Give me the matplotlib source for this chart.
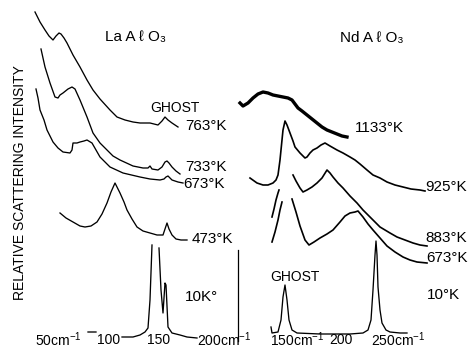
"""
Raman spectra of LaAlO3 and NdAlO3 at several temperatures,
redrawn as stacked traces (relative scattering intensity, offset).
"""

import numpy as np
import matplotlib.pyplot as plt

nan = np.nan

# LaAlO3 traces: Raman shift (cm-1) and offset intensity
la_763_w = [25, 30, 35, 39, 43, 46, 49, 51, 54, 57, 63, 70, 77, 83, 90, 100, 107, 115, 123, 130, 140, 148, 152, 155, 158, 162, 168]
la_763_i = [338, 328, 320, 314, 310, 314, 317, 316, 312, 307, 295, 283, 270, 260, 251, 240, 233, 230, 228, 227, 227, 225, 229, 233, 230, 227, 223]

la_733_w = [31, 35, 40, 45, 48, 50, 53, 58, 62, 65, 70, 77, 83, 90, 97, 103, 110, 123, 133, 138, 140, 142, 148, 152, 155, 157, 159, 162, 166, 170]
la_733_i = [301, 283, 267, 253, 252, 255, 257, 261, 263, 261, 250, 233, 217, 207, 200, 194, 190, 184, 182, 182, 184, 181, 180, 183, 188, 189, 187, 183, 179, 176]

la_673_w = [26, 28, 30, 34, 37, 43, 48, 53, 60, 62, 63, 67, 70, 74, 77, 82, 86, 90, 100, 113, 130, 140, 150, 154, 156, 158, 160, 162, 168, 173]
la_673_i = [261, 252, 240, 230, 220, 208, 202, 198, 197, 200, 207, 207, 208, 209, 210, 207, 200, 193, 183, 177, 173, 171, 170, 171, 173, 174, 172, 170, 168, 167]

la_473_w = [50, 56, 63, 70, 75, 81, 87, 92, 97, 101, 105, 108, 110, 114, 117, 122, 127, 133, 140, 147, 153, 155, 157, 159, 162, 166, 171, 177]
la_473_i = [137, 132, 128, 124, 123, 124, 128, 136, 147, 158, 167, 161, 157, 148, 140, 131, 123, 119, 117, 115, 115, 121, 127, 121, 115, 111, 110, 110]

# baseline is broken where the wavenumber labels sit
la_10_w = [78, 86, nan, 112, 123, 130, 135, 138, 140, 142, nan, 149, 151, 153, 155, 156, 158, 162, 170, 177, 187]
la_10_i = [18, 18, nan, 13, 13, 15, 18, 22, 50, 105, nan, 102, 60, 37, 67, 65, 23, 17, 15, 13, 12]

# NdAlO3 traces
nd_1133_w = [107, 110, 115, 120, 125, 130, 135, 140, 145, 150, 155, 159, 162, 165, 169, 174, 179, 184, 189, 194, 199, 204, 209, 214]
nd_1133_i = [247, 244, 247, 252, 256, 258, 257, 255, 254, 253, 252, 250, 246, 242, 239, 235, 231, 227, 223, 220, 218, 216, 214, 213]

nd_925_w = [117, 124, 130, 135, 140, 143, 145, 147, 149, 150, 152, 154, 157, 160, 162, 167, 172, 174, 177, 180, 184, 188, 192, 197,
            204, 210, 217, 222, 227, 234, 240, 247, 254, 262, 270, 278, 287, 292]
nd_925_i = [172, 167, 165, 165, 167, 170, 175, 190, 210, 220, 229, 225, 217, 209, 203, 197, 192, 193, 197, 200, 202, 205, 207, 204,
            200, 197, 193, 190, 186, 180, 175, 172, 168, 165, 163, 161, 160, 159]

nd_883_w = [139, 141, 143, 145, 146, nan, 160, 163, 167, 170, 174, 179, 184, 189, 194, 197, 200, 205, 210, 217, 224, 230, 237,
            247, 257, 264, 272, 280, 287, 294]
nd_883_i = [133, 141, 150, 157, 160, nan, 175, 169, 162, 158, 160, 163, 167, 172, 180, 177, 173, 167, 162, 154, 147, 140, 133,
            123, 117, 113, 110, 107, 105, 104]

nd_673_w = [139, 142, 145, 147, 149, nan, 159, 163, 167, 172, 176, 181, 187, 194, 200, 207, 212, 217, 222, 225, 230, 235, 240,
            247, 254, 262, 270, 277, 284, 294]
nd_673_i = [108, 118, 130, 140, 148, nan, 151, 138, 124, 110, 105, 108, 112, 116, 120, 128, 134, 137, 138, 139, 133, 126, 120,
            112, 104, 98, 93, 90, 88, 87]

nd_10_w = [138, 139, 145, 148, 150, 152, 154, 156, 159, 164, 187, 217, 230, 235, 238, 240, 242, 243, 244, 245, 247, 249, 253, 257, 267, 274]
nd_10_i = [23, 17, 18, 30, 53, 65, 50, 30, 20, 17, 16, 16, 17, 20, 30, 60, 95, 109, 95, 63, 40, 27, 20, 18, 17, 17]

# Labels
la_labels = ['763°K', '733°K', '673°K', '473°K', '10K°']
nd_labels = ['1133°K', '925°K', '883°K', '673°K', '10°K']
la_ticks = ['50cm$^{-1}$', '100', '150', '200cm$^{-1}$']
nd_ticks = ['150cm$^{-1}$', '200', '250cm$^{-1}$']

W, H = 471, 350


def px(x, y):
    """Figure fraction from picture pixels (for text placement only)."""
    return x / W, 1 - y / H


def main():
    plt.rcParams['font.family'] = ['Liberation Sans', 'DejaVu Sans']
    plt.rcParams['mathtext.fontset'] = 'custom'
    plt.rcParams['mathtext.rm'] = 'Liberation Sans'

    fig = plt.figure(figsize=(4.71, 3.5), dpi=100)
    fig.patch.set_facecolor('white')

    axl = fig.add_axes([0, 0, 230 / W, 1])
    axl.set_xlim(-10, 220)
    axl.set_ylim(0, 350)
    axl.axis('off')

    axr = fig.add_axes([230 / W, 0, 241 / W, 1])
    axr.set_xlim(97, 338)
    axr.set_ylim(0, 350)
    axr.axis('off')

    for w, i in [(la_763_w, la_763_i), (la_733_w, la_733_i), (la_673_w, la_673_i),
                 (la_473_w, la_473_i), (la_10_w, la_10_i)]:
        axl.plot(w, i, color='k', lw=0.95)

    axr.plot(nd_1133_w, nd_1133_i, color='k', lw=2.4)
    for w, i in [(nd_925_w, nd_925_i), (nd_883_w, nd_883_i), (nd_673_w, nd_673_i)]:
        axr.plot(w, i, color='k', lw=1.2)
    axr.plot(nd_10_w, nd_10_i, color='k', lw=0.95)

    # Separator between the two 10 K spectra
    axr.plot([104.5, 104.5], [9, 100], color='k', lw=0.9)

    txt = dict(fontsize=11, color='k', va='center')

    # Panel titles
    fig.text(*px(136, 37), 'La A ℓ O₃', ha='center', **txt)
    fig.text(*px(372, 38), 'Nd A ℓ O₃', ha='center', **txt)

    # Temperature labels
    la_pos = [(185, 126), (185, 167), (183, 184), (192, 239), (185, 297)]
    for s, (x, y) in zip(la_labels, la_pos):
        fig.text(*px(x, y), s, ha='left', **txt)

    nd_pos = [(355, 128), (425, 187), (425, 238), (426, 258), (427, 295)]
    for s, (x, y) in zip(nd_labels, nd_pos):
        fig.text(*px(x, y), s, ha='left', **txt)

    fig.text(*px(175, 108), 'GHOST', ha='center', fontsize=10, va='center')
    fig.text(*px(295, 277), 'GHOST', ha='center', fontsize=10, va='center')

    # Wavenumber labels along the bottom
    tick = dict(fontsize=10, color='k', va='center')
    for s, x in zip(la_ticks, [35, 97, 147, 197]):
        fig.text(*px(x, 340), s, ha='left', **tick)
    for s, x in zip(nd_ticks, [270, 329, 371]):
        fig.text(*px(x, 340), s, ha='left', **tick)

    fig.text(*px(20, 183), 'RELATIVE SCATTERING INTENSITY', rotation=90,
             ha='center', va='center', fontsize=10)

    fig.savefig('out.png', dpi=100, facecolor='white')


if __name__ == '__main__':
    main()
